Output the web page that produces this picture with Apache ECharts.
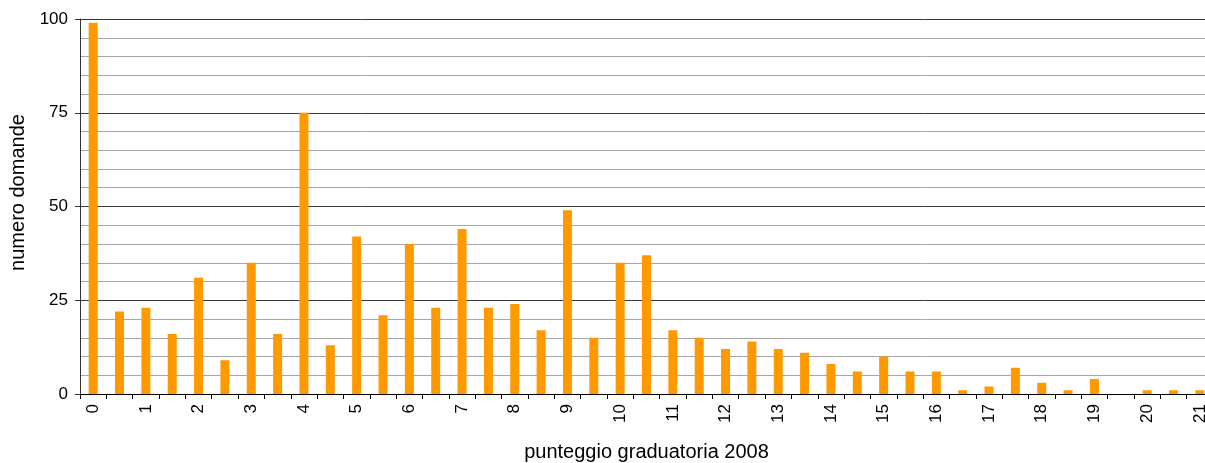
<!DOCTYPE html>
<html style="height: 100%">
<head>
<meta charset="utf-8">
<script src="https://cdn.jsdelivr.net/npm/echarts@6/dist/echarts.min.js"></script>
</head>
<body style="height: 100%; margin: 0; background: #fff">
<div id="container" style="width: 1205px; height: 463px"></div>
<script type="text/javascript">
// punteggio (half-point steps)
var punteggi = ['0', '0.5', '1', '1.5', '2', '2.5', '3', '3.5', '4', '4.5', '5', '5.5',
    '6', '6.5', '7', '7.5', '8', '8.5', '9', '9.5', '10', '10.5', '11', '11.5',
    '12', '12.5', '13', '13.5', '14', '14.5', '15', '15.5', '16', '16.5', '17', '17.5',
    '18', '18.5', '19', '19.5', '20', '20.5', '21'];

// numero domande per punteggio
var domande = [99, 22, 23, 16, 31, 9, 35, 16, 75, 13, 42, 21,
    40, 23, 44, 23, 24, 17, 49, 15, 35, 37, 17, 15,
    12, 14, 12, 11, 8, 6, 10, 6, 6, 1, 2, 7,
    3, 1, 4, 0, 1, 1, 1];

var yTicks = [0, 25, 50, 75, 100];

var myChart = echarts.init(document.getElementById('container'));

var option = {
    animation: false,
    textStyle: { fontFamily: 'Liberation Sans, Arial, sans-serif' },
    grid: { left: 80, top: 19, bottom: 69, width: 1133, outerBoundsMode: 'none', containLabel: false },
    xAxis: {
        type: 'category',
        data: punteggi,
        name: 'punteggio graduatoria 2008',
        nameLocation: 'middle',
        nameGap: 48,
        nameTextStyle: { fontSize: 20, color: '#000' },
        axisLine: { lineStyle: { color: '#000', width: 1 } },
        axisTick: { show: true, interval: 0, length: 5, lineStyle: { color: '#000' } },
        axisLabel: {
            interval: 1,
            rotate: 90,
            fontSize: 17,
            color: '#000',
            margin: 10
        }
    },
    yAxis: {
        type: 'value',
        min: yTicks[0],
        max: yTicks[yTicks.length - 1],
        interval: 25,
        name: 'numero domande',
        nameLocation: 'middle',
        nameGap: 40,
        nameTextStyle: { fontSize: 20, color: '#000', padding: [0, 0, 0, 28] },
        axisLine: { show: true, lineStyle: { color: '#333' } },
        axisTick: { show: true, length: 5, lineStyle: { color: '#333' } },
        axisLabel: { fontSize: 17, color: '#000', margin: 12 },
        splitLine: { lineStyle: { color: '#3a3a3a', width: 1 } },
        minorTick: { show: false, splitNumber: 5 },
        minorSplitLine: { show: true, lineStyle: { color: '#a6a6a6', width: 1 } }
    },
    series: [{
        type: 'bar',
        data: domande,
        barWidth: 9,
        itemStyle: { color: '#FF9900' }
    }]
};

myChart.setOption(option);
</script>
</body>
</html>
